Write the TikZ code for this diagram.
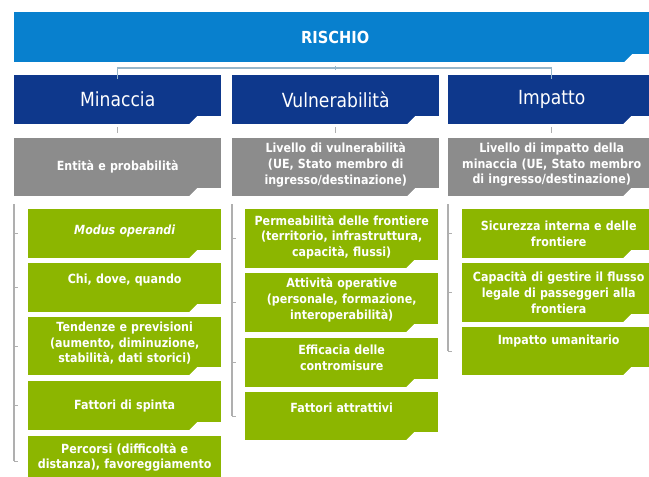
\documentclass[tikz,border=0pt]{standalone}
\usepackage{fontspec}
\setmainfont{DejaVu Sans}[FakeStretch=0.88]
\usetikzlibrary{positioning}

\definecolor{riskblue}{RGB}{8,128,206}
\definecolor{headblue}{RGB}{14,56,140}
\definecolor{levelgray}{RGB}{140,140,140}
\definecolor{factgreen}{RGB}{140,182,0}
\definecolor{linkgray}{RGB}{175,175,175}
\definecolor{linkblue}{RGB}{150,182,202}

\tikzset{
  box/.style = {rectangle, anchor=north west, inner sep=2pt, align=center, text=white,
    path picture={\fill[white] ([yshift=8pt]path picture bounding box.south east)
      -- ([xshift=-24pt,yshift=8pt]path picture bounding box.south east)
      -- ([xshift=-32pt]path picture bounding box.south east)
      -- (path picture bounding box.south east) -- cycle;}},
  topbar/.style = {box, fill=riskblue, minimum width=642pt, minimum height=50pt, text width=600pt, font=\bfseries\fontsize{16.6}{20}\selectfont},
  header/.style = {box, fill=headblue, minimum width=207pt, minimum height=49pt, text width=195pt, font=\fontsize{19.5}{22}\selectfont},
  level/.style = {box, fill=levelgray, minimum width=207pt, minimum height=58pt, text width=200pt, font=\bfseries\fontsize{12.6}{15.7}\selectfont},
  factor/.style = {box, fill=factgreen, minimum width=193pt, text width=189pt, font=\bfseries\fontsize{12.6}{15.7}\selectfont},
  lift/.style = {execute at end node={\par\vspace*{#1pt}}},
  bracket/.style = {draw=linkgray, line width=1.3pt},
  link/.style = {draw=linkblue, line width=1.2pt}
}

\begin{document}
\begin{tikzpicture}[x=1pt, y=-1pt]
\useasboundingbox (0,0) rectangle (649,477);
\clip (0,0) rectangle (649,477);

% risk bar and the three headings
\node[topbar] (risk) at (14,12) {RISCHIO};
\node[header] (thr) at (14,75) {Minaccia};
\node[header] (vul) at (232,75) {Vulnerabilità};
\node[header] (imp) at (448,75) {Impatto};

% gray level boxes
\node[level] (thrlev) at (14,138) {Entità e probabilità};
\node[level, lift=5] (vullev) at (232,138) {Livello di vulnerabilità\\(UE, Stato membro di\\ingresso/destinazione)};
\node[level, lift=5] (implev) at (448,138) {Livello di impatto della\\minaccia (UE, Stato membro\\di ingresso/destinazione)};

% threat factors
\node[factor, minimum height=49pt, lift=5] (m1) at (28,209) {\itshape Modus operandi};
\node[factor, minimum height=49pt, lift=16] (m2) at (28,263) {Chi, dove, quando};
\node[factor, minimum height=58pt, lift=6] (m3) at (28,317) {Tendenze e previsioni\\(aumento, diminuzione,\\stabilità, dati storici)};
\node[factor, minimum height=49pt] (m4) at (28,381) {Fattori di spinta};
\node[factor, minimum height=50pt, lift=8] (m5) at (28,436) {Percorsi (difficoltà e\\distanza), favoreggiamento};

% vulnerability factors
\node[factor, minimum height=59pt, lift=3] (v1) at (245,209) {Permeabilità delle frontiere\\(territorio, infrastruttura,\\capacità, flussi)};
\node[factor, minimum height=59pt, lift=6] (v2) at (245,273) {Attività operative\\(personale, formazione,\\interoperabilità)};
\node[factor, minimum height=49pt, lift=10] (v3) at (245,338) {Efficacia delle\\contromisure};
\node[factor, minimum height=48pt, lift=16] (v4) at (245,392) {Fattori attrattivi};

% impact factors
\node[factor, minimum height=49pt] (i1) at (462,209) {Sicurezza interna e delle\\frontiere};
\node[factor, minimum height=59pt] (i2) at (462,263) {Capacità di gestire il flusso\\legale di passeggeri alla\\frontiera};
\node[factor, minimum height=48pt, lift=20] (i3) at (462,327) {Impatto umanitario};

% risk bar to headings
\draw[link] ([yshift=-4pt]thr.north) |- ([yshift=7pt]vul.north) -| ([yshift=-4pt]imp.north);
\draw[link] ([yshift=9pt]vul.north) -- ([yshift=5pt]vul.north);

% headings to levels
\foreach \h/\l in {thr/thrlev, vul/vullev, imp/implev}
  \draw[bracket] ([yshift=-3pt]\h.south) -- ([yshift=5pt]\l.north);

% brackets down each column
\draw[bracket] ([yshift=-8pt]thrlev.south west) -- (thrlev.south west |- m5.west);
\foreach \m in {m1,m2,m3,m4,m5}
  \draw[bracket] (thrlev.south west |- \m.west) -- ++(4,0);
\draw[bracket] ([yshift=-8pt]vullev.south west) -- (vullev.south west |- v4.west);
\foreach \m in {v1,v2,v3,v4}
  \draw[bracket] (vullev.south west |- \m.west) -- ++(4,0);
\draw[bracket] ([yshift=-8pt]implev.south west) -- (implev.south west |- i3.west);
\foreach \m in {i1,i2,i3}
  \draw[bracket] (implev.south west |- \m.west) -- ++(4,0);

\end{tikzpicture}
\end{document}
